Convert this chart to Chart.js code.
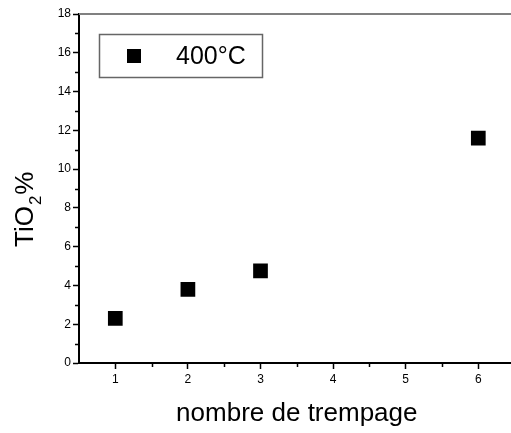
<!DOCTYPE html>
<html>
<head>
<meta charset="utf-8">
<script src="https://cdn.jsdelivr.net/npm/chart.js@4.4.1/dist/chart.umd.min.js"></script>
<style>
  html, body { margin: 0; padding: 0; overflow: hidden; background: #fff; }
  canvas { display: block; }
</style>
</head>
<body>
<canvas id="myChart" width="525" height="433" style="width:525px;height:433px"></canvas>
<script>
// data
const dipCounts = [1, 2, 3, 6];
const tio2Percent = [2.3, 3.8, 4.75, 11.6];
const seriesLabel = "400°C";
const xTickValues = [1, 2, 3, 4, 5, 6];
const yTickValues = [0, 2, 4, 6, 8, 10, 12, 14, 16, 18];
const xTitle = "nombre de trempage";

const FONT = "'Liberation Sans', Arial, sans-serif";

// minor ticks sit halfway between the major ones
function midpoints(vals) {
  const out = [];
  for (let i = 0; i < vals.length; i++) {
    const step = i < vals.length - 1 ? vals[i + 1] - vals[i] : vals[i] - vals[i - 1];
    out.push(vals[i] + step / 2);
  }
  return out;
}

// ðŸ”¹ minor ticks, frame line, titles and legend box
const decorPlugin = {
  id: "decor",
  afterDraw(chart) {
    const ctx = chart.ctx;
    const area = chart.chartArea;
    const xs = chart.scales.x;
    const ys = chart.scales.y;
    ctx.save();

    // gray frame on top
    ctx.strokeStyle = "#808080";
    ctx.lineWidth = 2;
    ctx.beginPath();
    ctx.moveTo(area.left, area.top);
    ctx.lineTo(chart.width, area.top);
    ctx.stroke();

    // minor ticks
    ctx.strokeStyle = "#000";
    ctx.lineWidth = 1.5;
    ctx.beginPath();
    midpoints(xTickValues).forEach(v => {
      const px = Math.round(xs.getPixelForValue(v)) + 0.5;
      ctx.moveTo(px, area.bottom);
      ctx.lineTo(px, area.bottom + 4);
    });
    midpoints(yTickValues).forEach(v => {
      if (v > ys.max) return;
      const py = Math.round(ys.getPixelForValue(v)) + 0.5;
      ctx.moveTo(area.left, py);
      ctx.lineTo(area.left - 4, py);
    });
    ctx.stroke();

    // x title
    ctx.fillStyle = "#000";
    ctx.font = "26px " + FONT;
    ctx.textAlign = "center";
    ctx.textBaseline = "alphabetic";
    ctx.fillText(xTitle, (area.left + area.right) / 2, 421);

    // y title with subscript
    ctx.save();
    ctx.translate(33, 247);
    ctx.rotate(-Math.PI / 2);
    ctx.textAlign = "left";
    ctx.font = "26px " + FONT;
    ctx.fillText("TiO", 0, 0);
    let w = ctx.measureText("TiO").width;
    ctx.font = "17px " + FONT;
    ctx.fillText("2", w + 1, 8);
    w += ctx.measureText("2").width + 2;
    ctx.font = "26px " + FONT;
    ctx.fillText("%", w, 0);
    ctx.restore();

    // legend box
    ctx.strokeStyle = "#666";
    ctx.lineWidth = 1.5;
    ctx.strokeRect(99.5, 34.5, 163, 43);
    ctx.fillStyle = "#000";
    ctx.fillRect(127, 49, 14, 14);
    ctx.font = "25px " + FONT;
    ctx.textAlign = "left";
    ctx.textBaseline = "middle";
    ctx.fillText(chart.data.datasets[0].label, 176, 57);

    ctx.restore();
  }
};

const ctx = document.getElementById("myChart").getContext("2d");

new Chart(ctx, {
  type: "scatter",
  data: {
    datasets: [{
      label: seriesLabel,
      data: dipCounts.map((x, i) => ({ x: x, y: tio2Percent[i] })),
      pointStyle: "rect",
      pointRadius: 10.4,
      pointHoverRadius: 10.4,
      backgroundColor: "#000",
      borderColor: "#000",
      borderWidth: 0
    }]
  },
  options: {
    responsive: false,
    devicePixelRatio: 1,
    animation: false,
    layout: {
      padding: { top: 14, right: 10, left: 0, bottom: 0 }
    },
    plugins: {
      legend: { display: false },
      tooltip: { enabled: false }
    },
    scales: {
      x: {
        type: "linear",
        min: 0.5,
        max: 6.5,
        afterBuildTicks(scale) {
          scale.ticks = xTickValues.map(v => ({ value: v }));
        },
        afterFit(scale) {
          scale.height = 70;
        },
        grid: {
          drawOnChartArea: false,
          drawTicks: true,
          tickLength: 6,
          tickWidth: 1.5,
          tickColor: "#000"
        },
        border: { display: true, color: "#000", width: 2 },
        ticks: {
          color: "#000",
          padding: 3,
          maxRotation: 0,
          font: { family: FONT, size: 12 }
        }
      },
      y: {
        type: "linear",
        min: 0,
        max: 18,
        afterBuildTicks(scale) {
          scale.ticks = yTickValues.map(v => ({ value: v }));
        },
        afterFit(scale) {
          scale.width = 79;
        },
        grid: {
          drawOnChartArea: false,
          drawTicks: true,
          tickLength: 6,
          tickWidth: 1.5,
          tickColor: "#000"
        },
        border: { display: true, color: "#000", width: 2 },
        ticks: {
          color: "#000",
          padding: 2,
          font: { family: FONT, size: 12 }
        }
      }
    }
  },
  plugins: [decorPlugin]
});
</script>
</body>
</html>
